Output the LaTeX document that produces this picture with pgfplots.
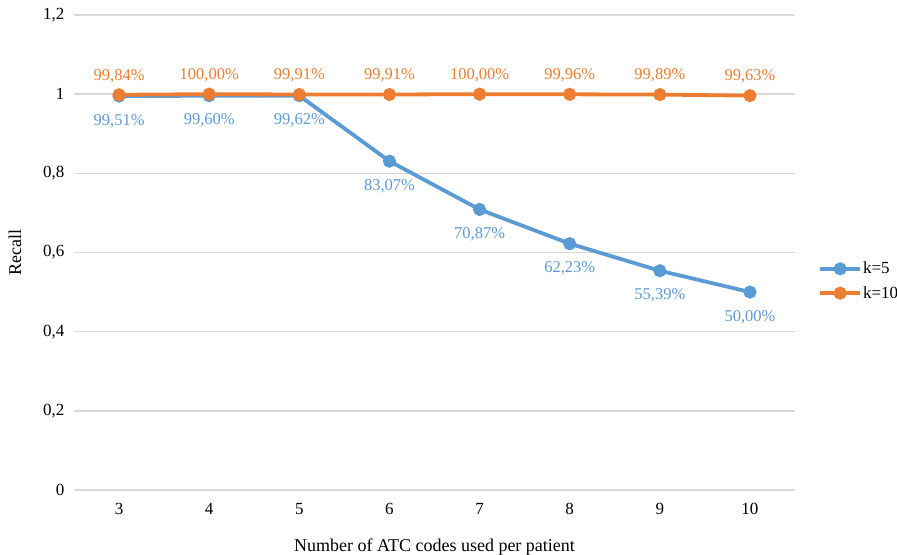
\documentclass[border=0pt]{standalone}
\usepackage{fontspec}
\setmainfont{Liberation Serif}
\usepackage{pgfplots}
\pgfplotsset{compat=1.18}

\definecolor{kfive}{HTML}{5B9BD5}
\definecolor{kten}{HTML}{ED7D31}
\definecolor{gridgray}{HTML}{D9D9D9}

\begin{document}
\begin{tikzpicture}[x=1bp,y=1bp]
\path[use as bounding box] (-74,-65) rectangle (823,490);
\begin{axis}[
  at={(0,0)}, anchor=south west,
  scale only axis,
  width=721bp, height=475bp,
  xmin=2.5, xmax=10.5,
  ymin=0, ymax=1.2,
  xtick={3,...,10},
  ytick={0,0.2,...,1.2},
  axis line style={draw=none},
  tick style={draw=none},
  ymajorgrids,
  grid style={gridgray, line width=1.5bp},
  /pgf/number format/use comma,
  /pgf/number format/assume math mode=true,
  ticklabel style={font=\fontsize{17bp}{19bp}\selectfont, text=black},
  yticklabel style={xshift=-6bp},
  xticklabel style={yshift=-10bp},
  xlabel={Number of ATC codes used per patient},
  ylabel={Recall},
  label style={font=\fontsize{18bp}{20bp}\selectfont},
  xlabel style={at={(axis description cs:0.5,-0.12)}, anchor=center},
  ylabel style={at={(axis description cs:-0.082,0.5)}, anchor=center},
  legend style={draw=none, at={(1.032,0.44)}, anchor=west, inner sep=0pt,
    font=\fontsize{17bp}{19bp}\selectfont, row sep=9bp,
    nodes={inner sep=1bp},
    /tikz/every even column/.append style={column sep=0bp}},
  legend cell align=left,
  legend image code/.code={
    \draw[#1, mark repeat=2, mark phase=2]
      plot coordinates {(0bp,0bp) (20bp,0bp) (40bp,0bp)};
  },
  point meta={y*100},
  nodes near coords={\pgfmathprintnumber[fixed,zerofill,precision=2,use comma,assume math mode=true]{\pgfplotspointmeta}\%},
  every node near coord/.append style={font=\fontsize{16.5bp}{18bp}\selectfont},
]
\addplot[kfive, line width=3.8bp, mark=*, mark size=4.6bp,
  mark options={fill=kfive, draw=kfive},
  every node near coord/.append style={anchor=north, text=kfive, yshift=-13bp}]
  coordinates {(3,0.9951) (4,0.9960) (5,0.9962) (6,0.8307) (7,0.7087) (8,0.6223) (9,0.5539) (10,0.5000)};
\addlegendentry{k=5}
\addplot[kten, line width=3.8bp, mark=*, mark size=4.6bp,
  mark options={fill=kten, draw=kten},
  every node near coord/.append style={anchor=south, text=kten, yshift=7bp}]
  coordinates {(3,0.9984) (4,1.0000) (5,0.9991) (6,0.9991) (7,1.0000) (8,0.9996) (9,0.9989) (10,0.9963)};
\addlegendentry{k=10}
\end{axis}
\end{tikzpicture}
\end{document}
